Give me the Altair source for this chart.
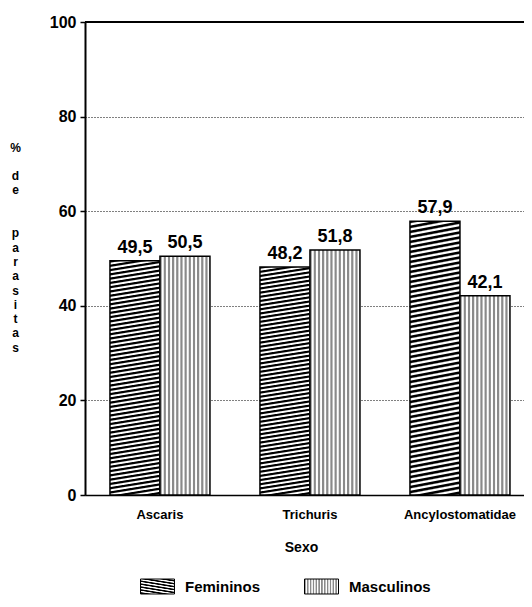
import altair as alt
import pandas as pd

parasites = ["Ascaris", "Trichuris", "Ancylostomatidae"]
series = ["Femininos", "Masculinos"]
fem_values = [49.5, 48.2, 57.9]
masc_values = [50.5, 51.8, 42.1]
y_ticks = [0, 20, 40, 60, 80, 100]
ZW = "\u200b"
y_title_lines = ["%", ZW, "d", "e", ZW, ZW, "p", "a", "r", "a", "s", "i", "t", "a", "s"]

rows = []
for p, f, m in zip(parasites, fem_values, masc_values):
    rows.append({"parasito": p, "sexo": series[0], "pct": f})
    rows.append({"parasito": p, "sexo": series[1], "pct": m})
df = pd.DataFrame(rows)
df["label"] = df["pct"].map(lambda v: f"{v:.1f}".replace(".", ","))

FONT = "Liberation Sans"


def stripes_expr(n, c1, c2, x2, y2):
    stops = []
    for i in range(n):
        a = i / n
        stops += [
            "{'offset':%.5f,'color':'%s'}" % (a, c1),
            "{'offset':%.5f,'color':'%s'}" % (a + 0.3 / n, c1),
            "{'offset':%.5f,'color':'%s'}" % (a + 0.55 / n, c2),
            "{'offset':%.5f,'color':'%s'}" % (a + 0.8 / n, c2),
        ]
    stops.append("{'offset':1,'color':'%s'}" % c2)
    return "{'gradient':'linear','x1':0,'y1':0,'x2':%s,'y2':%s,'stops':[%s]}" % (
        x2, y2, ",".join(stops))


hatch = stripes_expr(57, "#000000", "#ffffff", 0.036, 1.04)
dots = stripes_expr(12, "#8a8a8a", "#ffffff", 1, 0)

color_scale = alt.Scale(domain=series, range=[{"expr": hatch}, {"expr": dots}])

base = alt.Chart(df).encode(
    x=alt.X(
        "parasito:N",
        sort=parasites,
        scale=alt.Scale(paddingInner=1 / 3, paddingOuter=0.13, align=0.64),
        axis=alt.Axis(
            title="Sexo",
            labelAngle=0,
            labelFont=FONT,
            labelFontWeight="bold",
            labelFontSize=13,
            labelColor="black",
            labelPadding=13,
            ticks=False,
            domain=True,
            domainColor="black",
            domainWidth=1.5,
            titleFont=FONT,
            titleFontWeight="bold",
            titleFontSize=14,
            titleColor="black",
            titlePadding=19,
            titleX=216,
        ),
    ),
    xOffset=alt.XOffset("sexo:N", sort=series, scale=alt.Scale(paddingInner=0, paddingOuter=0)),
    y=alt.Y(
        "pct:Q",
        scale=alt.Scale(domain=[0, 100], nice=False),
        axis=alt.Axis(
            values=y_ticks,
            title=y_title_lines,
            titleAngle=0,
            titleAlign="center",
            titleBaseline="top",
            titleX=-70,
            titleY=120,
            titleLineHeight=14.3,
            titleFont=FONT,
            titleFontWeight="bold",
            titleFontSize=12,
            titleColor="black",
            labelFont=FONT,
            labelFontWeight="bold",
            labelFontSize=16,
            labelColor="black",
            labelPadding=4,
            tickSize=5,
            tickColor="black",
            tickWidth=1.5,
            domainColor="black",
            domainWidth=2,
            grid=True,
            gridColor="black",
            gridDash=[1, 2],
            gridWidth=1,
        ),
    ),
)

top_border = alt.Chart(df).mark_rule(color="black", strokeWidth=2).encode(
    y=alt.datum(y_ticks[-1])
)

bars = base.mark_bar(stroke="black", strokeWidth=1.5).encode(
    color=alt.Color(
        "sexo:N",
        scale=color_scale,
        legend=alt.Legend(
            title=None,
            orient="none",
            direction="horizontal",
            legendX=55,
            legendY=547,
            padding=0,
            symbolType="M-1,-0.44H1V0.44H-1Z",
            symbolSize=1156,
            symbolStrokeColor="black",
            symbolStrokeWidth=1,
            labelFont=FONT,
            labelFontWeight="bold",
            labelFontSize=15,
            labelColor="black",
            labelOffset=10,
            columnPadding=41,
        ),
    )
)

labels = base.mark_text(
    font=FONT, fontWeight="bold", fontSize=18, color="black",
    baseline="alphabetic", dy=-8
).encode(text="label:N")

chart = (
    alt.layer(bars, labels, top_border)
    .properties(
        width=439,
        height=473,
        padding={"left": 77, "top": 14, "right": 0, "bottom": 101},
        autosize=alt.AutoSizeParams(type="none"),
    )
    .configure_view(stroke=None)
)

chart.save("out.html", embed_options={"renderer": "svg", "actions": False})
